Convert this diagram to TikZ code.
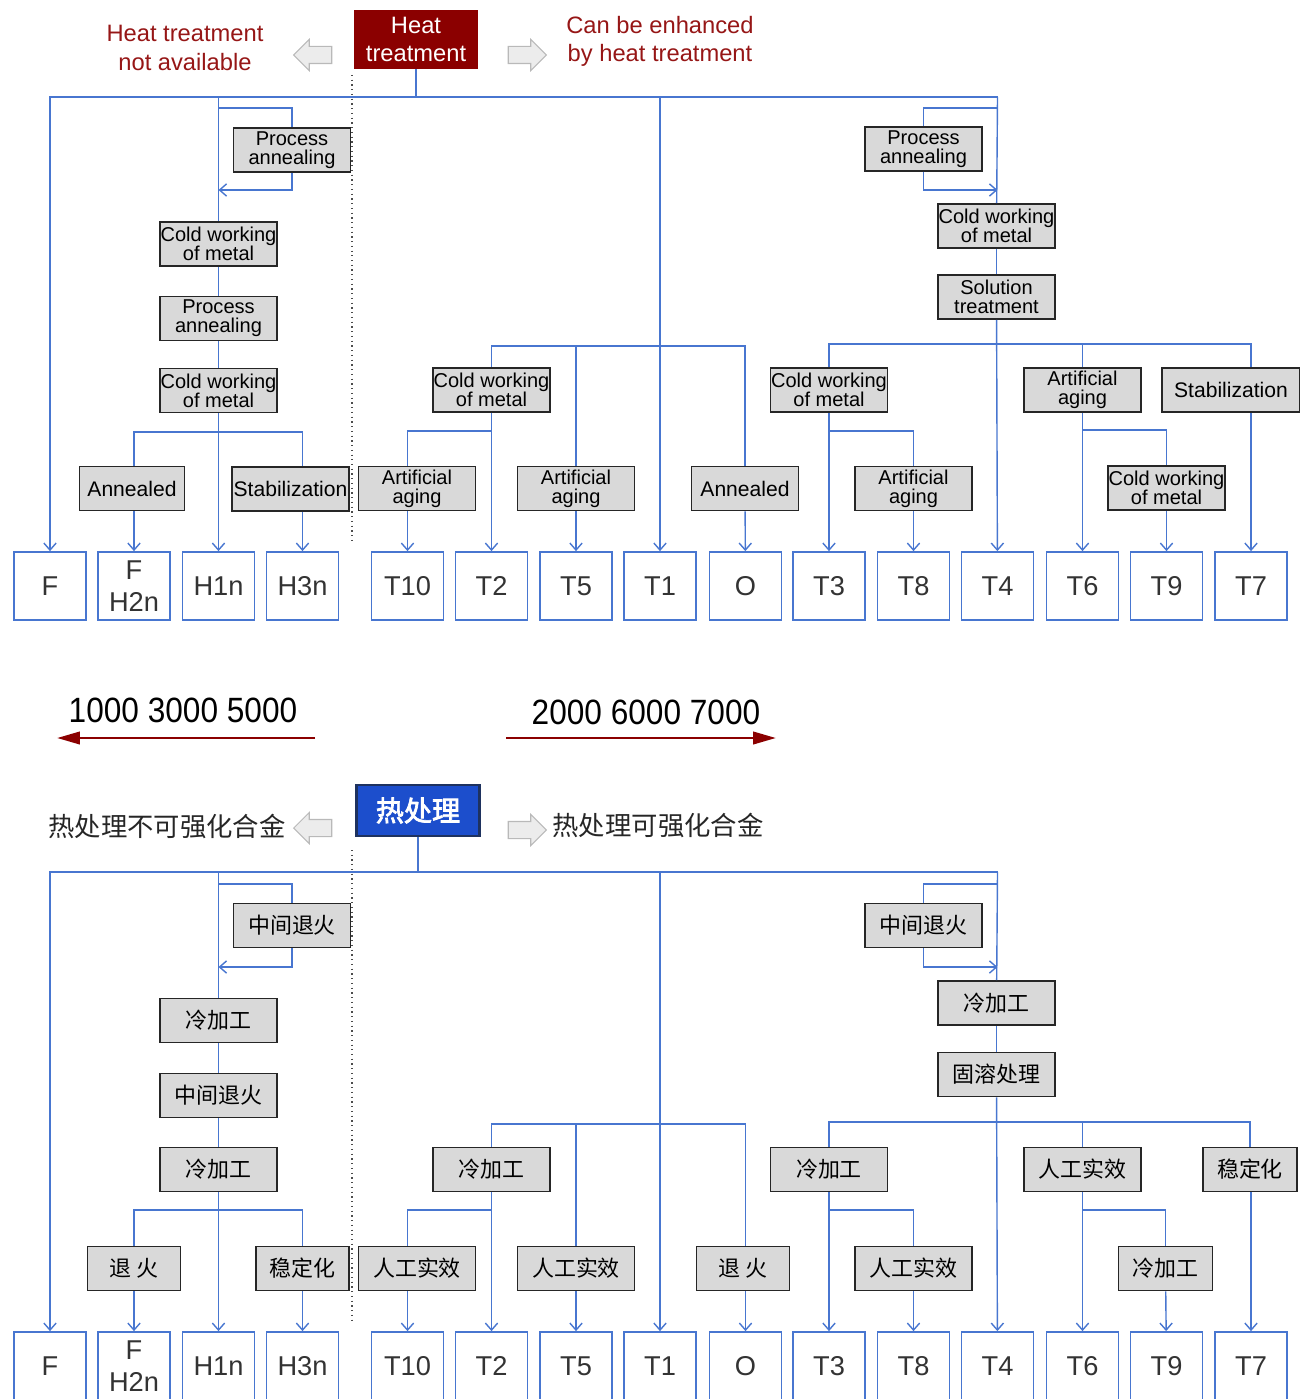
\documentclass[tikz,border=0pt]{standalone}
\usepackage{fontspec}
\setmainfont{Liberation Sans}
\newfontfamily\cjk{Noto Sans CJK SC}
\newfontfamily\cjkbold[AutoFakeBold=2.5]{Noto Sans CJK SC}
\newfontfamily\narrowsans[FakeStretch=0.9]{Liberation Sans}
\usetikzlibrary{arrows.meta,shapes.arrows}
\newlength{\unitpx}\setlength{\unitpx}{0.02cm}
\definecolor{linkblue}{RGB}{72,118,208}
\definecolor{procgray}{RGB}{217,217,217}
\definecolor{heatred}{RGB}{139,0,0}
\definecolor{notered}{RGB}{150,22,22}
\definecolor{zhblue}{RGB}{28,78,204}
\definecolor{zhnavy}{RGB}{30,50,95}
\definecolor{labelgray}{RGB}{51,51,51}

\begin{document}
\begin{tikzpicture}[x=0.02cm, y=-0.02cm,
  proc/.style={draw=black!85, fill=procgray, line width=1.1pt, align=center, inner sep=0pt, minimum width=117\unitpx, minimum height=44\unitpx, font=\fontsize{11.4}{10.8}\selectfont},
  procbig/.style={proc, font=\fontsize{12}{14}\selectfont},
  proczh/.style={proc, font=\cjk\fontsize{12.5}{15}\selectfont},
  res/.style={draw=linkblue, fill=white, line width=1pt, minimum width=72\unitpx, minimum height=68\unitpx, inner sep=0pt, align=center, text=labelgray, font=\fontsize{15.5}{18}\selectfont},
  headbox/.style={fill=heatred, text=white, minimum width=124\unitpx, minimum height=59\unitpx, inner sep=0pt, align=center, font=\fontsize{13.5}{16}\selectfont},
  zhhead/.style={fill=zhblue, draw=zhnavy, line width=1.2pt, text=white, minimum width=123\unitpx, minimum height=51\unitpx, inner sep=0pt, font=\cjkbold\bfseries\fontsize{16}{18}\selectfont},
  sidenote/.style={text=notered, align=center, inner sep=0pt, font=\fontsize{13.5}{16}\selectfont},
  zhnote/.style={text=black!85, inner sep=0pt, font=\cjk\fontsize{15}{18}\selectfont},
  series/.style={inner sep=0pt, font=\narrowsans\fontsize{20}{24}\selectfont},
  serarr/.style={draw=heatred, line width=1.6pt, -{Triangle[length=13pt,width=7pt]}},
  hollow/.style={single arrow, draw=gray!55, fill=gray!15, line width=0.6pt, minimum height=38\unitpx, minimum width=30\unitpx, single arrow head extend=7\unitpx, inner xsep=0pt, inner ysep=8\unitpx},
  link/.style={draw=linkblue, line width=0.8pt},
  arr/.style={link, -{Straight Barb[length=4pt,width=7pt]}},
  divider/.style={draw=black!70, dotted, line width=0.7pt}]
\useasboundingbox (0,0) rectangle (1299,1399);

% English chart
\node[headbox] (ht) at (416,39.5) {Heat\\treatment};
\node[sidenote] (ntl) at (185,48) {Heat treatment\\not available};
\node[sidenote] (ntr) at (660,41) {Can be enhanced\\by heat treatment};
\node[hollow, shape border rotate=180] (hal) at (317,55) {};
\node[hollow] (har) at (523,55) {};
\draw[divider] (352,75) -- (352,540);

\node[res] (rF) at (50,586) {F};
\node[res] (rFH) at (134,586) {F\\H2n};
\node[res] (rH1) at (218.5,586) {H1n};
\node[res] (rH3) at (302.5,586) {H3n};
\node[res] (rT10) at (407.5,586) {T10};
\node[res] (rT2) at (491.5,586) {T2};
\node[res] (rT5) at (576,586) {T5};
\node[res] (rT1) at (660,586) {T1};
\node[res] (rO) at (745.5,586) {O};
\node[res] (rT3) at (829,586) {T3};
\node[res] (rT8) at (913.5,586) {T8};
\node[res] (rT4) at (997.5,586) {T4};
\node[res] (rT6) at (1082.5,586) {T6};
\node[res] (rT9) at (1166.5,586) {T9};
\node[res] (rT7) at (1251,586) {T7};

\node[proc] (pa1) at (292,150) {Process\\annealing};
\node[proc] (cw1) at (218.5,244) {Cold working\\of metal};
\node[proc] (pa2) at (218.5,318.5) {Process\\annealing};
\node[proc] (cw3) at (218.5,390.5) {Cold working\\of metal};
\node[procbig, minimum width=105\unitpx] (an1) at (132,488.5) {Annealed};
\node[procbig] (st1) at (290.5,489) {Stabilization};
\node[proc] (cw4) at (491.5,390) {Cold working\\of metal};
\node[proc] (aa1) at (417,488.5) {Artificial\\aging};
\node[proc] (aa2) at (576,488.5) {Artificial\\aging};
\node[procbig, minimum width=107\unitpx] (an2) at (745,488.5) {Annealed};
\node[proc] (pa3) at (923.5,149) {Process\\annealing};
\node[proc] (cw7) at (996.5,226) {Cold working\\of metal};
\node[proc] (st3) at (996.5,297) {Solution\\treatment};
\node[proc] (cw5) at (829,390) {Cold working\\of metal};
\node[proc] (aa3) at (913.5,488.5) {Artificial\\aging};
\node[proc] (aa4) at (1082.5,390) {Artificial\\aging};
\node[proc] (cw6) at (1166.5,488) {Cold working\\of metal};
\node[procbig, minimum width=138\unitpx] (st2) at (1231,390) {Stabilization};

\coordinate (m1) at (416,97);
\coordinate (mR) at (997.5,97);
\coordinate (lpa) at (218.5,108); \coordinate (lpb) at (218.5,190);
\coordinate (lpc) at (997.5,108); \coordinate (lpd) at (997.5,190);
\coordinate (jL) at (218.5,432);
\coordinate (jM) at (660,346); \coordinate (jM2) at (491.5,431);
\coordinate (jR) at (997.5,344); \coordinate (jR2) at (829,431); \coordinate (jR3) at (1082.5,430);

\draw[link] (ht) -- (m1); \draw[arr] (m1) -| (rF.north); \draw[link] (m1) -- (mR);
\draw[link] (rH1 |- m1) -- (cw1);
\draw[link] (lpa) -| (pa1.north); \draw[arr] (pa1.south) |- (lpb);
\draw[link] (cw1) -- (pa2); \draw[link] (pa2) -- (cw3); \draw[arr] (cw3) -- (rH1);
\draw[link] (rFH |- an1.north) |- (jL) -| (rH3 |- st1.north);
\draw[arr] (rFH |- an1.south) -- (rFH.north); \draw[arr] (rH3 |- st1.south) -- (rH3.north);
\draw[arr] (rT1 |- m1) -- (rT1);
\draw[link] (cw4.north) |- (jM) -| (an2.north); \draw[link] (rT5 |- jM) -- (aa2);
\draw[arr] (cw4) -- (rT2); \draw[link] (jM2) -| (rT10 |- aa1.north);
\draw[arr] (rT10 |- aa1.south) -- (rT10); \draw[arr] (aa2) -- (rT5); \draw[arr] (an2) -- (rO);
\draw[link] (mR) -- (cw7);
\draw[link] (lpc) -| (pa3.north); \draw[arr] (pa3.south) |- (lpd);
\draw[link] (cw7) -- (st3); \draw[arr] (st3) -- (rT4);
\draw[link] (cw5.north) |- (jR) -| (rT7 |- st2.north); \draw[link] (aa4.north) -- (aa4.north |- jR);
\draw[arr] (cw5) -- (rT3); \draw[link] (jR2) -| (aa3.north); \draw[arr] (aa3) -- (rT8);
\draw[arr] (aa4) -- (rT6); \draw[link] (jR3) -| (cw6.north); \draw[arr] (cw6) -- (rT9);
\draw[arr] (rT7 |- st2.south) -- (rT7);

% series
\node[series] (s1) at (183,710) {1000 3000 5000};
\node[series] (s2) at (646,712) {2000 6000 7000};
\coordinate (s1a) at (315,738); \coordinate (s1b) at (57,738);
\coordinate (s2a) at (506,738); \coordinate (s2b) at (776,738);
\draw[serarr] (s1a) -- (s1b); \draw[serarr] (s2a) -- (s2b);

% Chinese chart
\node[zhhead] (zt) at (418,810.5) {热处理};
\node[zhnote] (zl) at (167,826) {热处理不可强化合金};
\node[zhnote] (zr) at (658,825) {热处理可强化合金};
\node[hollow, shape border rotate=180] (zal) at (317,828) {};
\node[hollow] (zar) at (523,830) {};
\draw[divider] (352,850) -- (352,1320);

\node[res] (zF) at (50,1366) {F};
\node[res] (zFH) at (134,1366) {F\\H2n};
\node[res] (zH1) at (218.5,1366) {H1n};
\node[res] (zH3) at (302.5,1366) {H3n};
\node[res] (zT10) at (407.5,1366) {T10};
\node[res] (zT2) at (491.5,1366) {T2};
\node[res] (zT5) at (576,1366) {T5};
\node[res] (zT1) at (660,1366) {T1};
\node[res] (zO) at (745.5,1366) {O};
\node[res] (zT3) at (829,1366) {T3};
\node[res] (zT8) at (913.5,1366) {T8};
\node[res] (zT4) at (997.5,1366) {T4};
\node[res] (zT6) at (1082.5,1366) {T6};
\node[res] (zT9) at (1166.5,1366) {T9};
\node[res] (zT7) at (1251,1366) {T7};

\node[proczh] (zpa1) at (292,925.5) {中间退火};
\node[proczh] (zcw1) at (218.5,1020.5) {冷加工};
\node[proczh] (zpa2) at (218.5,1095.5) {中间退火};
\node[proczh] (zcw3) at (218.5,1169.5) {冷加工};
\node[proczh, minimum width=93\unitpx] (zan1) at (134,1268.5) {退 火};
\node[proczh, minimum width=93\unitpx] (zst1) at (302.5,1268.5) {稳定化};
\node[proczh] (zcw4) at (491.5,1169.5) {冷加工};
\node[proczh] (zaa1) at (417,1268.5) {人工实效};
\node[proczh] (zaa2) at (576,1268.5) {人工实效};
\node[proczh, minimum width=93\unitpx] (zan2) at (743,1268.5) {退 火};
\node[proczh] (zpa3) at (923.5,925.5) {中间退火};
\node[proczh] (zcw7) at (996.5,1003) {冷加工};
\node[proczh] (zst3) at (996.5,1074.5) {固溶处理};
\node[proczh] (zcw5) at (829,1169.5) {冷加工};
\node[proczh] (zaa3) at (913.5,1268.5) {人工实效};
\node[proczh] (zaa4) at (1082.5,1169.5) {人工实效};
\node[proczh, minimum width=94\unitpx] (zcw6) at (1165.5,1268.5) {冷加工};
\node[proczh, minimum width=94\unitpx] (zst2) at (1250,1169.5) {稳定化};

\coordinate (m2) at (418,872);
\coordinate (mR2) at (997.5,872);
\coordinate (zlpa) at (218.5,884); \coordinate (zlpb) at (218.5,967);
\coordinate (zlpc) at (997.5,884); \coordinate (zlpd) at (997.5,967);
\coordinate (zjL) at (218.5,1210);
\coordinate (zjM) at (660,1124); \coordinate (zjM2) at (491.5,1210);
\coordinate (zjR) at (997.5,1122); \coordinate (zjR2) at (829,1210); \coordinate (zjR3) at (1082.5,1210);

\draw[link] (zt) -- (m2); \draw[arr] (m2) -| (zF.north); \draw[link] (m2) -- (mR2);
\draw[link] (zH1 |- m2) -- (zcw1);
\draw[link] (zlpa) -| (zpa1.north); \draw[arr] (zpa1.south) |- (zlpb);
\draw[link] (zcw1) -- (zpa2); \draw[link] (zpa2) -- (zcw3); \draw[arr] (zcw3) -- (zH1);
\draw[link] (zan1.north) |- (zjL) -| (zst1.north);
\draw[arr] (zan1) -- (zFH); \draw[arr] (zst1) -- (zH3);
\draw[arr] (zT1 |- m2) -- (zT1);
\draw[link] (zcw4.north) |- (zjM) -| (zO |- zan2.north); \draw[link] (zT5 |- zjM) -- (zaa2);
\draw[arr] (zcw4) -- (zT2); \draw[link] (zjM2) -| (zT10 |- zaa1.north);
\draw[arr] (zT10 |- zaa1.south) -- (zT10); \draw[arr] (zaa2) -- (zT5); \draw[arr] (zO |- zan2.south) -- (zO);
\draw[link] (mR2) -- (zcw7);
\draw[link] (zlpc) -| (zpa3.north); \draw[arr] (zpa3.south) |- (zlpd);
\draw[link] (zcw7) -- (zst3); \draw[arr] (zst3) -- (zT4);
\draw[link] (zcw5.north) |- (zjR) -| (zst2.north); \draw[link] (zaa4.north) -- (zaa4.north |- zjR);
\draw[arr] (zcw5) -- (zT3); \draw[link] (zjR2) -| (zaa3.north); \draw[arr] (zaa3) -- (zT8);
\draw[arr] (zaa4) -- (zT6); \draw[link] (zjR3) -| (zcw6.north); \draw[arr] (zcw6) -- (zT9);
\draw[arr] (zT7 |- zst2.south) -- (zT7);
\end{tikzpicture}
\end{document}
